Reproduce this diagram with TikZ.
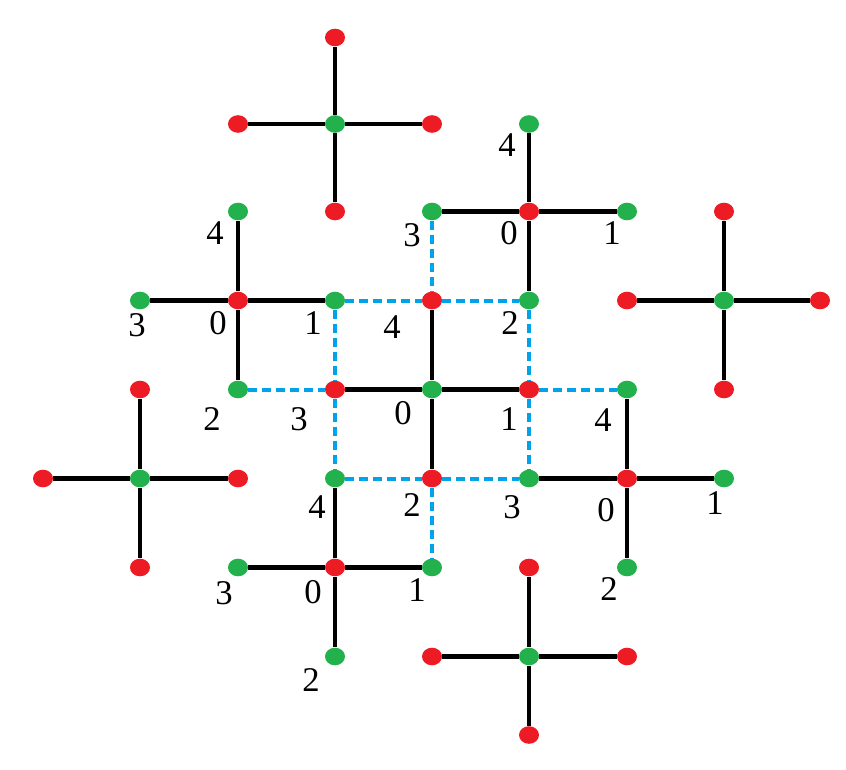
\documentclass[tikz,border=0pt]{standalone}
\usepackage{fontspec}
\setmainfont{Liberation Serif}
\usetikzlibrary{calc,shapes.geometric}
\definecolor{dotred}{HTML}{ED1C24}
\definecolor{dotgreen}{HTML}{22B14C}
\definecolor{linkblue}{HTML}{00A2E8}
\tikzset{
	dot/.style={ellipse, inner sep=0pt, minimum width=15pt, minimum height=13.2pt},
	rdot/.style={dot, fill=dotred},
	gdot/.style={dot, fill=dotgreen},
	arm/.style={line width=3.4pt, black},
	link/.style={line width=3pt, linkblue, dash pattern=on 6.75pt off 3.75pt},
	num/.style={inner sep=0pt, font=\fontsize{26}{26}\selectfont}
}

\begin{document}
\begin{tikzpicture}[x=0.75pt, y=-0.75pt]
		\useasboundingbox (0,0) rectangle (846,770);
		% grid points
		\foreach \c/\x in {0/43,1/140,2/238,3/335,4/432,5/529,6/627,7/724,8/820}
			\foreach \r/\y in {0/37.5,1/124,2/211.5,3/300.5,4/389.5,5/478.5,6/567.5,7/656.5,8/735}
				\coordinate (g-\c-\r) at (\x,\y);
		% crosses: hub and four arm ends
		\foreach \c/\r/\hub/\tip in {3/1/gdot/rdot, 2/3/rdot/gdot, 5/2/rdot/gdot, 7/3/gdot/rdot, 4/4/gdot/rdot, 1/5/gdot/rdot, 6/5/rdot/gdot, 3/6/rdot/gdot, 5/7/gdot/rdot}{
			\pgfmathtruncatemacro\cleft{\c-1}
			\pgfmathtruncatemacro\cright{\c+1}
			\pgfmathtruncatemacro\rup{\r-1}
			\pgfmathtruncatemacro\rdown{\r+1}
			\node[\hub] (d-\c-\r) at (g-\c-\r) {};
			\node[\tip] (d-\c-\rup) at (g-\c-\rup) {};
			\node[\tip] (d-\c-\rdown) at (g-\c-\rdown) {};
			\node[\tip] (d-\cleft-\r) at (g-\cleft-\r) {};
			\node[\tip] (d-\cright-\r) at (g-\cright-\r) {};
			\draw[arm] (d-\c-\r) -- (d-\c-\rup) (d-\c-\r) -- (d-\c-\rdown)
				(d-\c-\r) -- (d-\cleft-\r) (d-\c-\r) -- (d-\cright-\r);
		}
		% dashed links
		\draw[link] (d-3-3) -- (d-4-3) (d-4-3) -- (d-5-3) (d-4-2) -- (d-4-3)
			(d-3-3) -- (d-3-4) (d-3-4) -- (d-3-5) (d-2-4) -- (d-3-4)
			(d-5-3) -- (d-5-4) (d-5-4) -- (d-5-5) (d-5-4) -- (d-6-4)
			(d-3-5) -- (d-4-5) (d-4-5) -- (d-5-5) (d-4-5) -- (d-4-6);
		% numbers
		\foreach \d/\dx/\dy/\t in {2-2/-23/22/4, 1-3/-3/25/3, 2-3/-20/23/0, 3-3/-22/23/1, 2-4/-26/30/2,
			5-1/-22/21/4, 4-2/-20/24/3, 5-2/-20/22/0, 6-2/-15/22/1, 5-3/-19/23/2,
			4-3/-40/27/4, 3-4/-36/30/3, 4-4/-29/24/0, 5-4/-20/30/1, 4-5/-20/27/2,
			6-4/-24/31/4, 5-5/-17/29/3, 6-5/-21/32/0, 7-5/-9/25/1, 6-6/-18/22/2,
			3-5/-18/29/4, 2-6/-14/26/3, 3-6/-22/25/0, 4-6/-15/23/1, 3-7/-24/24/2}
			\node[num] (n-\d) at ($(d-\d)+(\dx,\dy)$) {\t};
	\end{tikzpicture}
\end{document}
